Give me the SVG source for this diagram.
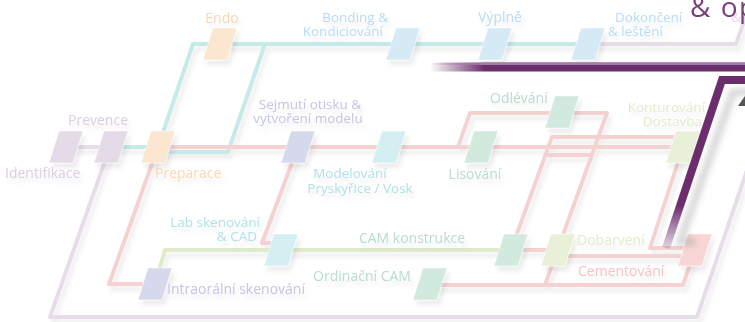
<svg xmlns="http://www.w3.org/2000/svg" width="745" height="322" viewBox="0 0 745 322">
<defs>
<style>
.ln{fill:none;stroke-width:4;stroke-linejoin:round}
.teal{stroke:#c6e9ea}
.red{stroke:#f4d2d2}
.lav{stroke:#e7dde9}
.grn{stroke:#dfeacb}
.nd{stroke:#ffffff;stroke-opacity:.5;stroke-width:1}
.n-lav{fill:#e5dbe8}
.n-peach{fill:#fbe7cf}
.n-blue{fill:#d5eaf5}
.n-peri{fill:#d6d9ec}
.n-cyan{fill:#d3eff1}
.n-mint{fill:#d2e9de}
.n-lime{fill:#e8f1d8}
.n-pink{fill:#f8d6d6}
text{font-family:'Open Sans','DejaVu Sans',sans-serif;font-size:14px}
.sm{font-size:13.5px}
.t-lav{fill:#dacde0}
.t-peach{fill:#fad7b4}
.t-blue{fill:#b6dcf3}
.t-peri{fill:#c2c6e2}
.t-cyan{fill:#aee2e8}
.t-mint{fill:#b9dccb}
.t-lime{fill:#dfeccb}
.t-pink{fill:#f5c2c2}
</style>
<path id="pg" d="M-7,-16 H17 L7,16 H-17 Z"/>
<filter id="sh" x="-10%" y="-10%" width="130%" height="140%">
<feGaussianBlur in="SourceAlpha" stdDeviation="2"/>
<feOffset dx="3" dy="5" result="b"/>
<feFlood flood-color="#000" flood-opacity="0.07"/>
<feComposite in2="b" operator="in"/>
<feMerge><feMergeNode/><feMergeNode in="SourceGraphic"/></feMerge>
</filter>
<filter id="blur" x="-20%" y="-50%" width="140%" height="200%"><feGaussianBlur stdDeviation="3"/></filter>
<linearGradient id="pf" gradientUnits="userSpaceOnUse" x1="430" y1="0" x2="485" y2="0">
<stop offset="0" stop-color="#6b2d6c" stop-opacity="0"/>
<stop offset="1" stop-color="#6b2d6c"/>
</linearGradient>
<linearGradient id="pfl" gradientUnits="userSpaceOnUse" x1="430" y1="0" x2="485" y2="0">
<stop offset="0" stop-color="#a47ba6" stop-opacity="0"/>
<stop offset="1" stop-color="#a47ba6"/>
</linearGradient>
<linearGradient id="pv" gradientUnits="userSpaceOnUse" x1="0" y1="205" x2="0" y2="258">
<stop offset="0" stop-color="#6b2d6c"/>
<stop offset="1" stop-color="#6b2d6c" stop-opacity="0"/>
</linearGradient>
<linearGradient id="sf" gradientUnits="userSpaceOnUse" x1="440" y1="0" x2="500" y2="0">
<stop offset="0" stop-color="#888" stop-opacity="0"/>
<stop offset="1" stop-color="#888" stop-opacity=".45"/>
</linearGradient>
</defs>
<rect width="745" height="322" fill="#ffffff"/>

<g id="connectors" filter="url(#sh)">
<path class="ln lav" d="M66,147 H111"/>
<path class="ln lav" d="M110,147 L50,317 H697 L760,132"/>
<path class="ln lav" d="M588,44 H736 L748,10"/>
<path class="ln teal" d="M111,147 H158"/>
<path class="ln teal" d="M158,147 L193,44 H588"/>
<path class="ln teal" d="M265,44 L228,152 H160"/>
<path class="ln red" d="M158,147 H683"/>
<path class="ln red" d="M158,147 L109,284 H155"/>
<path class="ln red" d="M298,147 L262,243 H281"/>
<path class="ln red" d="M458,147 L470,113 H607 L545,285"/>
<path class="ln red" d="M511,250 L552,137 H683"/>
<path class="ln red" d="M546,155 H592"/>
<path class="ln red" d="M683,147 L650,248 H695"/>
<path class="ln red" d="M511,250 H558"/>
<path class="ln red" d="M558,256 H695"/>
<path class="ln red" d="M430,285 H683 L695,250"/>
<path class="ln grn" d="M155,284 L165,250 H511"/>
</g>

<g id="nodes" filter="url(#sh)">
<g id="n-identifikace"><use href="#pg" x="66" y="147" class="nd n-lav"/><text x="5" y="178" class="t-lav">Identifikace</text></g>
<g id="n-prevence"><use href="#pg" x="111" y="147" class="nd n-lav"/><text x="98" y="125" text-anchor="middle" class="t-lav">Prevence</text></g>
<g id="n-preparace"><use href="#pg" x="158" y="147" class="nd n-peach"/><text x="155" y="178" class="t-peach">Preparace</text></g>
<g id="n-endo"><use href="#pg" x="220" y="44" class="nd n-peach"/><text x="222" y="23" text-anchor="middle" class="t-peach">Endo</text></g>
<g id="n-bonding"><use href="#pg" x="403" y="44" class="nd n-blue"/><text x="388" y="22" text-anchor="end" class="sm t-blue">Bonding &amp;</text><text x="383" y="36" text-anchor="end" class="sm t-blue">Kondiciování</text></g>
<g id="n-vyplne"><use href="#pg" x="495" y="44" class="nd n-blue"/><text x="500" y="22" text-anchor="middle" class="t-blue">Výplně</text></g>
<g id="n-dokonceni"><use href="#pg" x="588" y="44" class="nd n-blue"/><text x="615" y="22" class="sm t-blue">Dokončení</text><text x="608" y="36" class="sm t-blue">&amp; leštění</text></g>
<g id="n-sejmuti"><use href="#pg" x="298" y="147" class="nd n-peri"/><text x="310" y="109" text-anchor="middle" class="sm t-peri">Sejmutí otisku &amp;</text><text x="308" y="123" text-anchor="middle" class="sm t-peri">vytvoření modelu</text></g>
<g id="n-modelovani"><use href="#pg" x="389" y="147" class="nd n-cyan"/><text x="350" y="178" text-anchor="middle" class="sm t-cyan">Modelování</text><text x="360" y="193" text-anchor="middle" class="sm t-cyan">Pryskyřice / Vosk</text></g>
<g id="n-lisovani"><use href="#pg" x="481" y="147" class="nd n-mint"/><text x="475" y="179" text-anchor="middle" class="t-mint">Lisování</text></g>
<g id="n-odlevani"><use href="#pg" x="562" y="112" class="nd n-mint"/><text x="490" y="103" class="t-mint">Odlévání</text></g>
<g id="n-konturovani"><use href="#pg" x="683" y="147" class="nd n-lime"/><text x="705" y="112" text-anchor="end" class="sm t-lime">Konturování</text><text x="702" y="126" text-anchor="end" class="sm t-lime">Dostavba</text></g>
<g id="n-lab"><use href="#pg" x="281" y="250" class="nd n-cyan"/><text x="260" y="227" text-anchor="end" class="sm t-cyan">Lab skenování</text><text x="257" y="241" text-anchor="end" class="sm t-cyan">&amp; CAD</text></g>
<g id="n-cam"><use href="#pg" x="511" y="250" class="nd n-mint"/><text x="412" y="243" text-anchor="middle" class="t-mint">CAM konstrukce</text></g>
<g id="n-dobarveni"><use href="#pg" x="558" y="250" class="nd n-lime"/><text x="577" y="245" class="t-lime">Dobarvení</text></g>
<g id="n-cementovani"><use href="#pg" x="695" y="250" class="nd n-pink"/><text x="578" y="276" class="t-pink">Cementování</text></g>
<g id="n-intraoralni"><use href="#pg" x="155" y="284" class="nd n-peri"/><text x="167" y="294" class="t-peri">Intraorální skenování</text></g>
<g id="n-ordinacni"><use href="#pg" x="430" y="284" class="nd n-mint"/><text x="362" y="281" text-anchor="middle" class="t-mint">Ordinační CAM</text></g>
</g>

<g id="overlay">
<path d="M440,80 H760" fill="none" stroke="url(#sf)" stroke-width="8" filter="url(#blur)"/>
<path d="M760,92 H733 L680,242 H695" fill="none" stroke="#888" stroke-opacity=".35" stroke-width="7" filter="url(#blur)"/>
<path d="M430,67 H760" fill="none" stroke="url(#pf)" stroke-width="9"/>
<path d="M430,64 H760" fill="none" stroke="url(#pfl)" stroke-width="2"/>
<path d="M760,80 H722 L666,248" fill="none" stroke="url(#pv)" stroke-width="8" stroke-linejoin="miter"/>
<polygon points="745,96 738,106 745,106" fill="#555"/>
<text x="731" y="22" style="font-size:14px" fill="#e8d8ea">&amp;</text>
<text x="690" y="17" style="font-size:28px;letter-spacing:1.5px" fill="#7b3f80">&amp; op</text>
</g>
</svg>
